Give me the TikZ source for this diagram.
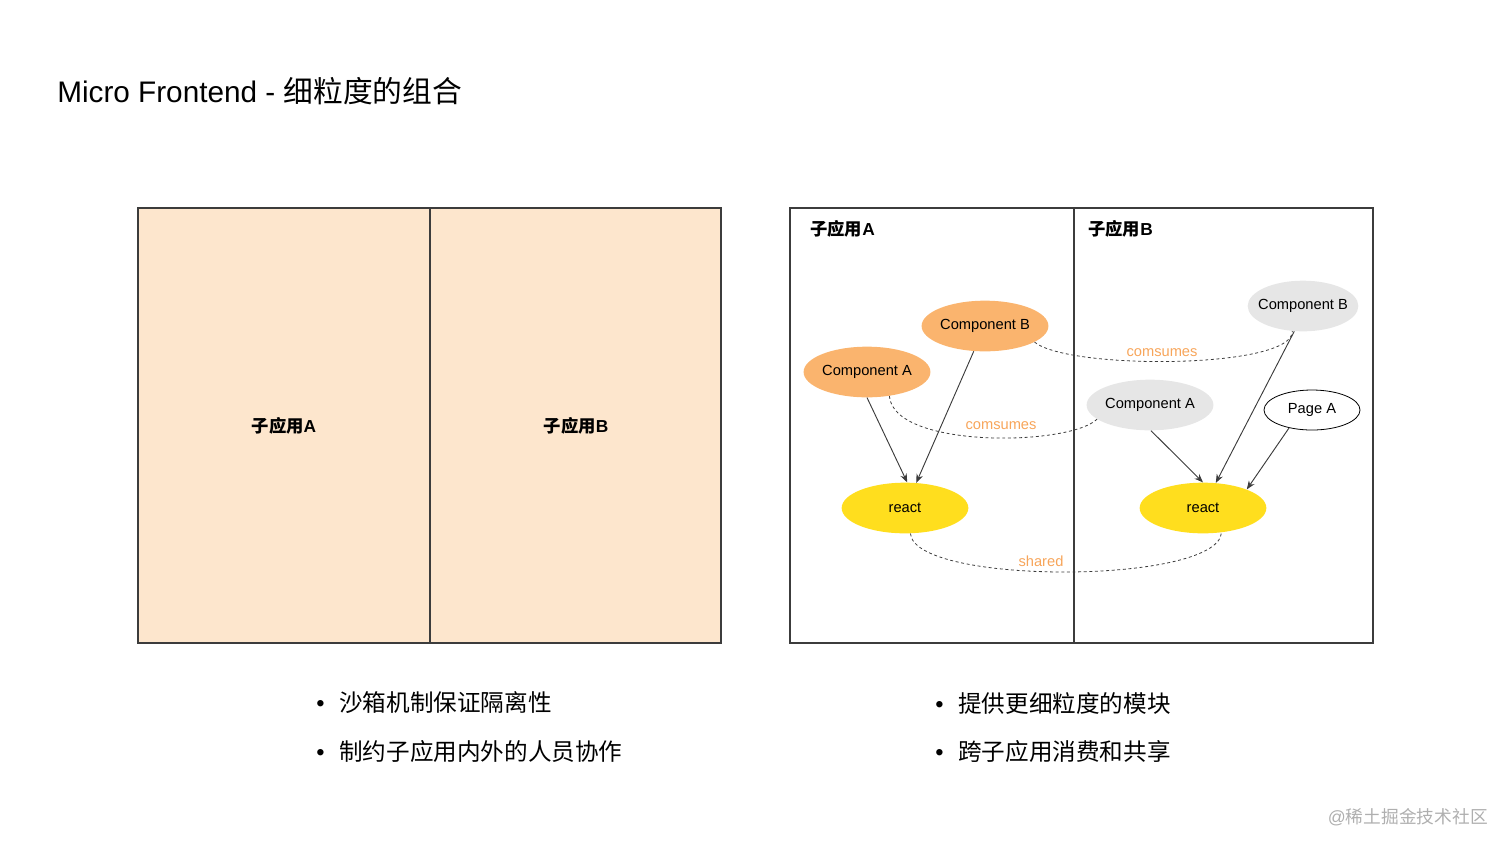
\documentclass[tikz,border=0pt]{standalone}
\usepackage{fontspec}
\setmainfont{Liberation Sans}
\newfontfamily\cjk{Noto Sans CJK SC}
\usepackage{tikz}
\usetikzlibrary{shapes.geometric, arrows.meta}
\definecolor{cPeach}{RGB}{253,230,205}
\definecolor{cOrange}{RGB}{250,180,110}
\definecolor{cYellow}{RGB}{255,222,30}
\definecolor{cGrey}{RGB}{230,230,230}
\definecolor{cLabel}{RGB}{247,165,90}
\definecolor{cLine}{RGB}{60,60,60}
\definecolor{cMark}{RGB}{175,175,175}
\newcommand\zh[1]{{\cjk #1}}

\begin{document}
\begin{tikzpicture}[x=0.75pt, y=-0.75pt,
    panel/.style={draw=cLine, line width=0.9pt},
    app/.style={inner sep=0pt, font=\fontsize{13}{15}\selectfont\bfseries},
    comp/.style={ellipse, inner sep=0pt, minimum width=95pt, minimum height=38pt, font=\fontsize{11}{13}\selectfont},
    uses/.style={draw=cLine, line width=0.7pt, -{Stealth[length=6.5pt, width=5pt]}},
    link/.style={draw=cLine, line width=0.6pt, dash pattern=on 2.2pt off 2pt},
    note/.style={inner sep=0pt, text=cLabel, font=\fontsize{11}{13}\selectfont},
    item/.style={inner sep=0pt, anchor=west, font=\fontsize{17.7}{20}\selectfont}]
    \useasboundingbox (0,0) rectangle (1512,851);

    % Title
    \node[inner sep=0pt, anchor=west, font=\fontsize{22.3}{26}\selectfont] (title) at (57,91) {Micro Frontend - \zh{细粒度的组合}};

    % Left panel: two sandboxed apps
    \draw[panel, fill=cPeach] (138,208) rectangle (721,643);
    \draw[panel] (430,208) -- (430,643);
    \node[app] (appA) at (284,426) {\zh{子应用}A};
    \node[app] (appB) at (576,426) {\zh{子应用}B};

    % Right panel: fine-grained composition
    \draw[panel] (790,208) rectangle (1373,643);
    \draw[panel] (1074,208) -- (1074,643);
    \node[app, anchor=west] (subA) at (810,229) {\zh{子应用}A};
    \node[app, anchor=west] (subB) at (1088,229) {\zh{子应用}B};

    % Component nodes
    \node[comp, fill=cOrange] (cbL) at (985,326) {Component B};
    \node[comp, fill=cOrange] (caL) at (867,372) {Component A};
    \node[comp, fill=cYellow] (rL) at (905,508) {react};
    \node[comp, fill=cGrey, minimum width=83pt, inner xsep=-4.3pt] (cbR) at (1303,306) {Component B};
    \node[comp, fill=cGrey] (caR) at (1150,405) {Component A};
    \node[comp, draw=black, line width=0.6pt, minimum width=72pt, minimum height=30pt] (pgA) at (1312,410) {Page A};
    \node[comp, fill=cYellow] (rR) at (1203,508) {react};

    % Dependencies
    \path[uses] (caL.270) -- (rL.85);
    \path[uses] (cbL.246) -- (rL.66);
    \path[uses] (caR.272) -- (rR.90);
    \path[uses] (cbR.251) -- (rR.63);
    \path[uses] (pgA.218) -- (rR.23);

    % Consumption across apps
    \path[link] (caL.-47) .. controls +(4,53) and +(-28,27) .. (caR.195);
    \path[link] (cbL.-18) .. controls +(34,28) and +(1,38) .. (cbR.247);
    \path[link] (rL.-78) .. controls +(4,52) and +(-3,52) .. (rR.-53);
    \node[note] (n1) at (1001,426) {comsumes};
    \node[note] (n2) at (1162,353) {comsumes};
    \node[note] (n3) at (1041,561) {shared};

    % Bullet points
    \node[item] (b1) at (316,703) {•\hspace{11pt}\zh{沙箱机制保证隔离性}};
    \node[item] (b2) at (316,752) {•\hspace{11pt}\zh{制约子应用内外的人员协作}};
    \node[item] (b3) at (935,703) {•\hspace{11pt}\zh{提供更细粒度的模块}};
    \node[item] (b4) at (935,752) {•\hspace{11pt}\zh{跨子应用消费和共享}};

    % Watermark
    \node[inner sep=0pt, anchor=east, text=cMark, font=\fontsize{13.3}{15}\selectfont] (mark) at (1488,817) {@\zh{稀土掘金技术社区}};
\end{tikzpicture}
\end{document}
